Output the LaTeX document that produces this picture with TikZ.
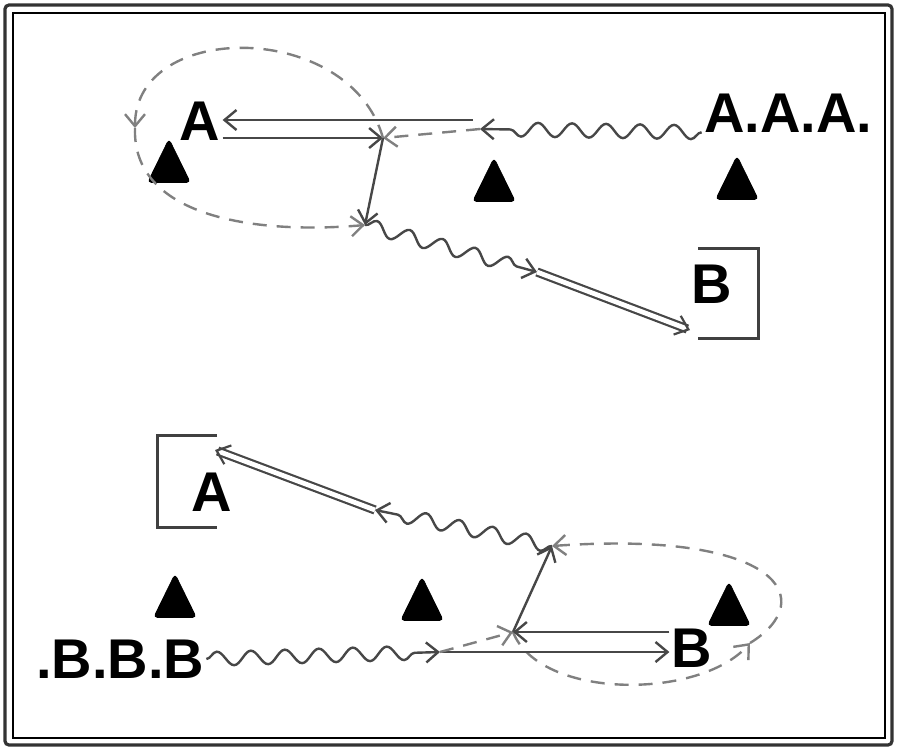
\documentclass[tikz,border=0pt]{standalone}
\usepackage{fontspec}
\setmainfont{Liberation Sans}
\usetikzlibrary{arrows.meta, decorations.pathmorphing, shapes.geometric}
\tikzstyle{letter}=[font=\bfseries\fontsize{28}{30}\selectfont, inner sep=1pt]
\tikzstyle{marker}=[regular polygon, regular polygon sides=3, fill=black, draw=black, minimum size=29pt, inner sep=0pt, rounded corners=2pt, xscale=0.85]
\tikzstyle{end-barb}=[-{Straight Barb[length=6pt,width=10pt]}]
\tikzstyle{plain-line}=[draw=black!72, line width=1.2pt, end-barb]
\tikzstyle{wave-line}=[plain-line, decorate, decoration={snake, amplitude=3.5pt, segment length=17pt, post length=7pt}]
\tikzstyle{ghost-line}=[plain-line, draw=black!50, dash pattern=on 7pt off 5pt]
\tikzstyle{double-line}=[plain-line, double=white, double distance=2.4pt, line width=1.1pt]
\tikzstyle{bracket}=[draw=black!75, line width=1.5pt]
\begin{document}
\begin{tikzpicture}[x=0.5pt, y=-0.5pt]
\useasboundingbox (0,0) rectangle (900,752);
\draw[line width=1.6pt, black!80, rounded corners=2pt] (5,5) rectangle (892,745);
\draw[line width=0.6pt] (13,13) rectangle (885,738);

\node[letter] (aTop) at (200,121) {A};
\node[letter] (aaa) at (788,113) {A.A.A.};
\node[letter] (bTop) at (712,284) {B};
\node[letter] (aBot) at (212,492) {A};
\node[letter] (bbb) at (120,659) {.B.B.B};
\node[letter] (bBot) at (692,648) {B};
\foreach \pos [count=\i] in {(169,168),(494,187),(737,185),(175,603),(422,606),(729,611)}
	\node[marker] (m\i) at \pos {};

\coordinate (v1) at (383,138);
\coordinate (v2) at (480,129);
\coordinate (v3) at (365,225);
\coordinate (v4) at (537,272);
\coordinate (u1) at (473,120);
\coordinate (l1) at (135,128);
\coordinate (bIn) at (690,330);

\draw[bracket] (698,248) -- (758,248) -- (758,338) -- (698,338);
\draw[plain-line] (u1) -- (u1 -| aTop.east);
\draw[plain-line] (v1 -| aTop.east) -- (v1);
\draw[ghost-line] (v2) -- (v1);
\draw[wave-line] (aaa.base west) -- (v2);
\draw[plain-line] (v1) -- (v3);
\draw[ghost-line] (v1) .. controls (350,20) and (135,20) .. (l1);
\draw[ghost-line] (l1) .. controls (132,215) and (250,235) .. (v3);
\draw[wave-line] (v3) -- (v4);
\draw[double-line] (v4) -- (bIn);

\coordinate (w1) at (375,510);
\coordinate (w2) at (552,546);
\coordinate (w3) at (513,632);
\coordinate (w4) at (440,652);
\coordinate (l2) at (750,643);
\coordinate (aIn) at (215,450);

\draw[bracket] (217,435) -- (157,435) -- (157,527) -- (217,527);
\draw[double-line] (w1) -- (aIn);
\draw[wave-line] (w2) -- (w1);
\draw[plain-line] (w3) -- (w2);
\draw[ghost-line] (w3) .. controls (540,700) and (700,700) .. (l2);
\draw[ghost-line] (l2) .. controls (820,600) and (780,530) .. (w2);
\draw[plain-line] (bBot.west |- w3) -- (w3);
\draw[plain-line] (w4) -- (w4 -| bBot.west);
\draw[ghost-line] (w4) -- (w3);
\draw[wave-line] (bbb.east) -- (w4);
\end{tikzpicture}
\end{document}
